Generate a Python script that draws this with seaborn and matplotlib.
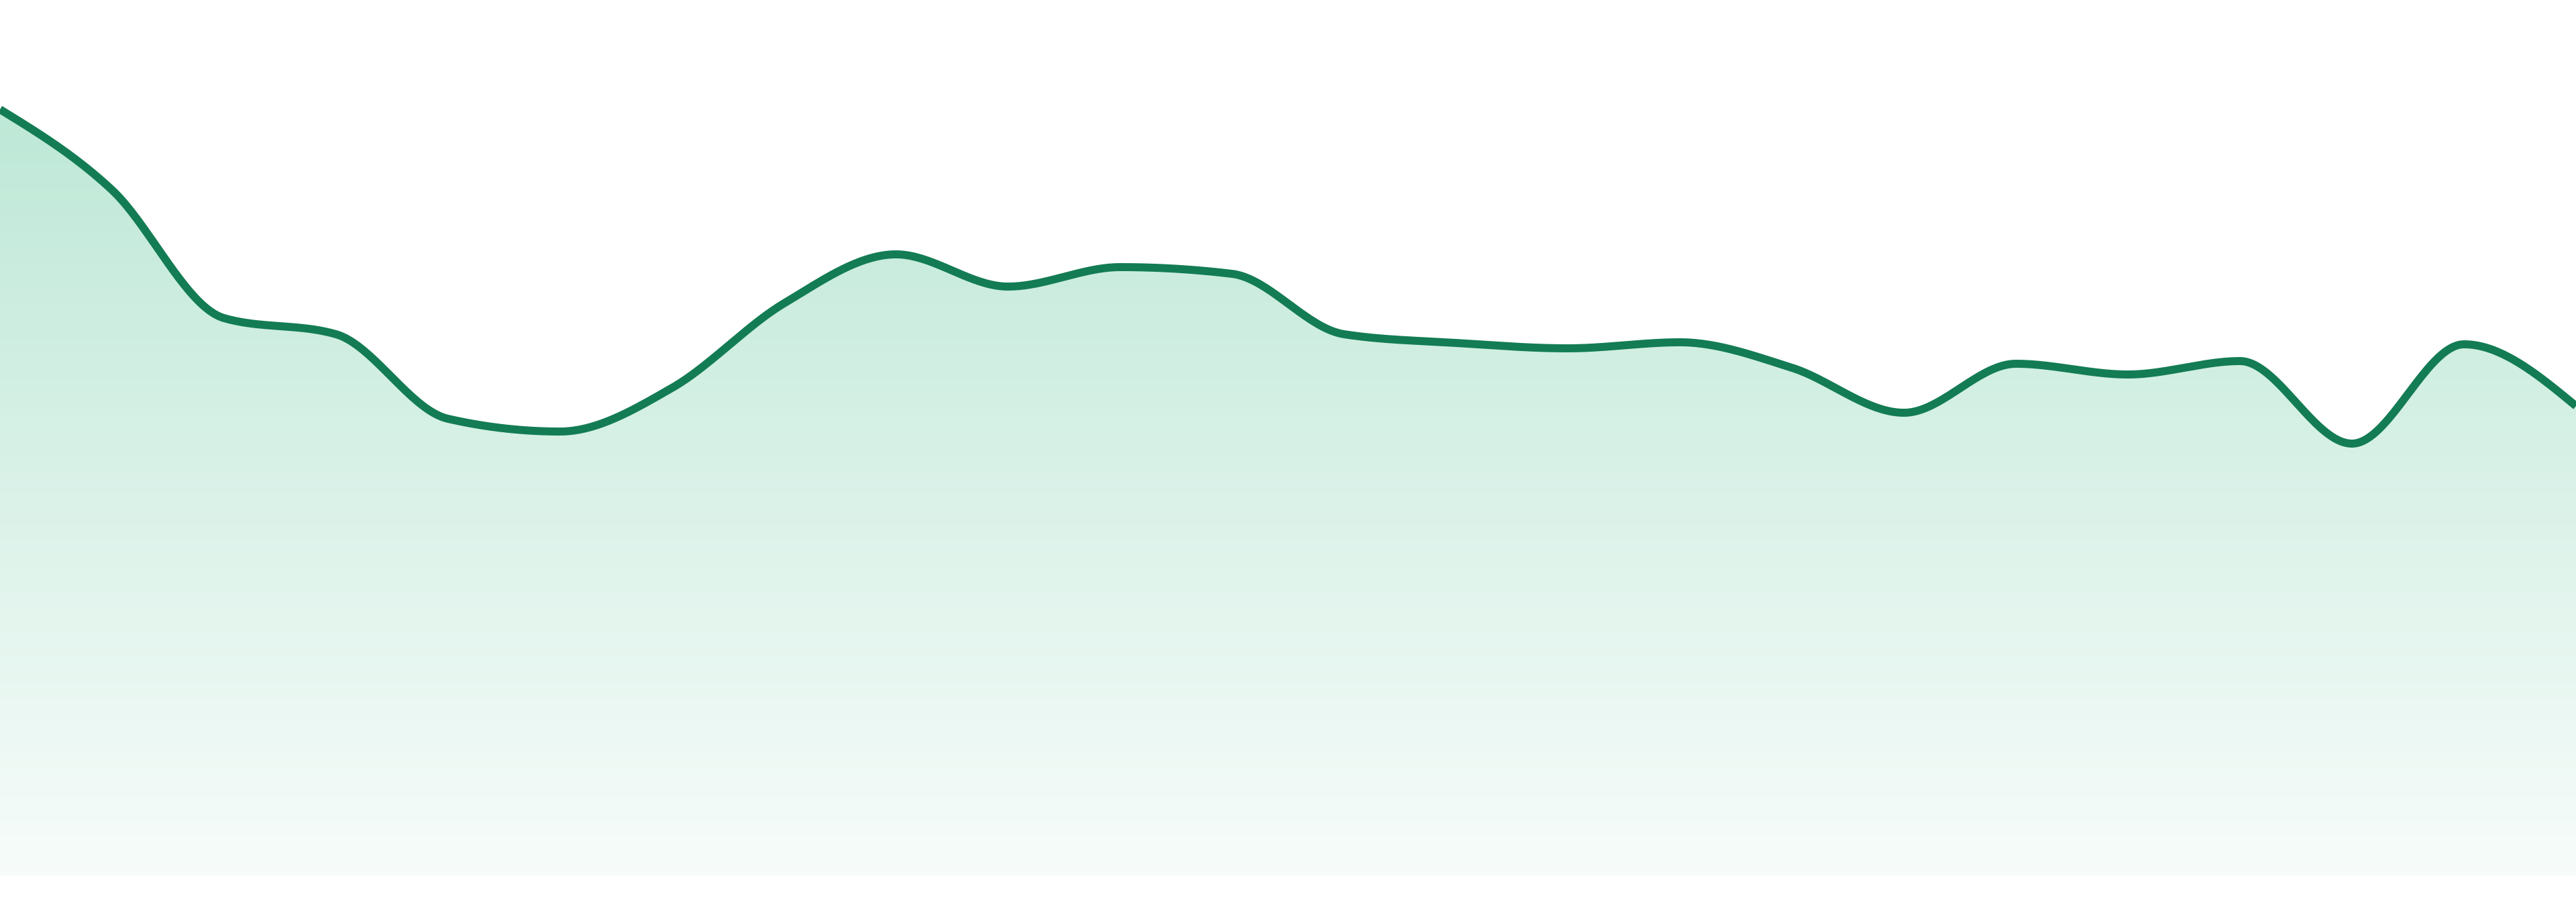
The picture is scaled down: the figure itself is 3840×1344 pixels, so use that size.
import numpy as np
import pandas as pd
import matplotlib
matplotlib.use("Agg")
import matplotlib.pyplot as plt
import seaborn as sns
from matplotlib.colors import LinearSegmentedColormap

# values (24 evenly spaced periods)
periods = list(range(24))
values = [114.2, 102.2, 83.1, 80.7, 68.1, 66.2, 72.7, 85.3, 92.6, 87.8,
          90.7, 89.7, 80.7, 79.4, 78.6, 79.5, 75.7, 69.0, 76.3, 74.7,
          76.7, 64.4, 79.2, 70.0]

line_color = "#137c54"
fill_top = "#bee8d7"
fill_bottom = "#f7fcfa"


def monotone_x(x, y, n=40):
    """d3 style monotone cubic interpolation"""
    x = np.asarray(x, float)
    y = np.asarray(y, float)
    h = np.diff(x)
    s = np.diff(y) / h
    t = np.zeros_like(y)
    for i in range(1, len(y) - 1):
        s0, s1 = s[i - 1], s[i]
        p = (s0 * h[i] + s1 * h[i - 1]) / (h[i - 1] + h[i])
        t[i] = (np.sign(s0) + np.sign(s1)) * min(abs(s0), abs(s1), 0.5 * abs(p))
    t[0] = (3 * s[0] - t[1]) / 2
    t[-1] = (3 * s[-1] - t[-2]) / 2
    xs, ys = [], []
    for i in range(len(y) - 1):
        u = np.linspace(0, 1, n, endpoint=False)
        h00 = 2 * u**3 - 3 * u**2 + 1
        h10 = u**3 - 2 * u**2 + u
        h01 = -2 * u**3 + 3 * u**2
        h11 = u**3 - u**2
        xs.append(x[i] + u * h[i])
        ys.append(h00 * y[i] + h10 * h[i] * t[i] + h01 * y[i + 1] + h11 * h[i] * t[i + 1])
    xs.append([x[-1]])
    ys.append([y[-1]])
    return np.concatenate(xs), np.concatenate(ys)


xs, ys = monotone_x(periods, values)
df = pd.DataFrame({"period": xs, "value": ys})

sns.set_style("white")
fig = plt.figure(figsize=(38.4, 13.44), dpi=100)
ax = fig.add_axes([0, 0, 1, 1])

# gradient area under the curve
poly = ax.fill_between(df["period"], df["value"], 0, facecolor="none", edgecolor="none")
cmap = LinearSegmentedColormap.from_list("fade", [fill_bottom, fill_top])
grad = np.linspace(0, 1, 256).reshape(-1, 1)
im = ax.imshow(grad, cmap=cmap, aspect="auto", origin="lower",
               extent=[periods[0], periods[-1], 0, df["value"].max()],
               interpolation="bicubic", zorder=1)
im.set_clip_path(poly.get_paths()[0], transform=ax.transData)

sns.lineplot(data=df, x="period", y="value", color=line_color, linewidth=8.6,
             ax=ax, zorder=3)
ax.lines[-1].set_solid_capstyle("butt")
ax.lines[-1].set_solid_joinstyle("round")

ax.set_xlim(periods[0], periods[-1])
ax.set_ylim(-3.9, 130.5)
ax.axis("off")

fig.savefig("out.png", dpi=100, facecolor="white")
